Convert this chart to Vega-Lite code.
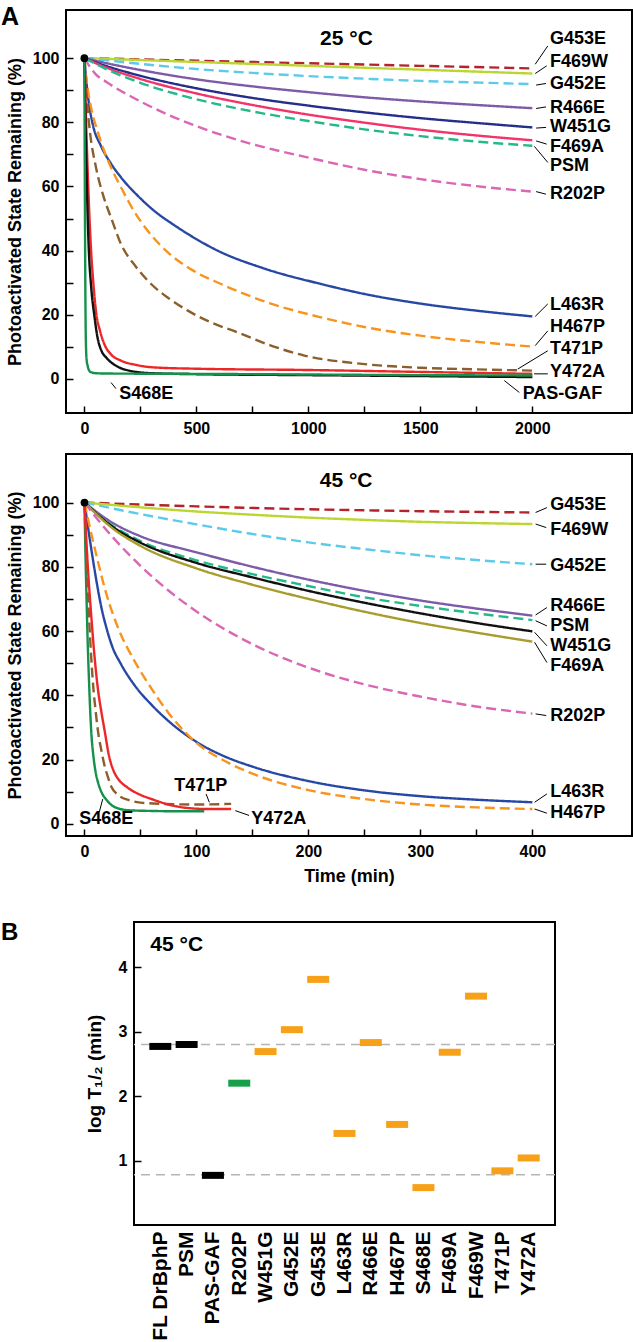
{
  "$schema": "https://vega.github.io/schema/vega-lite/v6.json",
  "padding": {"top": 4, "left": 0, "right": 0, "bottom": 0},
  "config": {
    "font": "Liberation Sans",
    "view": {"stroke": "black", "strokeWidth": 2},
    "axis": {"domain": false, "grid": false, "labelFont": "Liberation Sans", "labelFontWeight": "bold", "labelFontSize": 16, "labelColor": "black", "labelFlush": false, "labelOverlap": false, "titleFont": "Liberation Sans", "titleFontWeight": "bold", "titleFontSize": 18, "titleColor": "black", "tickColor": "black", "tickWidth": 1.5, "tickSize": -7, "labelPadding": 14},
    "title": {"font": "Liberation Sans", "fontWeight": "bold", "color": "black"},
    "text": {"font": "Liberation Sans", "fontWeight": "bold", "color": "black"}
  },
  "datasets": {
    "a25": [
      {"s":"G453E","t":0,"v":100},{"s":"G453E","t":250,"v":99.6},{"s":"G453E","t":500,"v":99.2},{"s":"G453E","t":1000,"v":98.4},{"s":"G453E","t":1500,"v":97.6},{"s":"G453E","t":2000,"v":96.8},
      {"s":"F469W","t":0,"v":100},{"s":"F469W","t":250,"v":99.4},{"s":"F469W","t":500,"v":98.8},{"s":"F469W","t":1000,"v":97.6},{"s":"F469W","t":1500,"v":96.4},{"s":"F469W","t":2000,"v":95.2},
      {"s":"G452E","t":0,"v":100},{"s":"G452E","t":100,"v":99.3},{"s":"G452E","t":250,"v":98.2},{"s":"G452E","t":500,"v":96.6},{"s":"G452E","t":750,"v":95.4},{"s":"G452E","t":1000,"v":94.4},{"s":"G452E","t":1250,"v":93.6},{"s":"G452E","t":1500,"v":92.9},{"s":"G452E","t":1750,"v":92.4},{"s":"G452E","t":2000,"v":91.9},
      {"s":"R466E","t":0,"v":100},{"s":"R466E","t":100,"v":98.4},{"s":"R466E","t":250,"v":96.3},{"s":"R466E","t":500,"v":93.4},{"s":"R466E","t":750,"v":91.2},{"s":"R466E","t":1000,"v":89.4},{"s":"R466E","t":1250,"v":87.8},{"s":"R466E","t":1500,"v":86.5},{"s":"R466E","t":1750,"v":85.4},{"s":"R466E","t":2000,"v":84.4},
      {"s":"W451G","t":0,"v":100},{"s":"W451G","t":100,"v":97.5},{"s":"W451G","t":250,"v":94.5},{"s":"W451G","t":500,"v":90.6},{"s":"W451G","t":750,"v":87.6},{"s":"W451G","t":1000,"v":85.2},{"s":"W451G","t":1250,"v":83.1},{"s":"W451G","t":1500,"v":81.3},{"s":"W451G","t":1750,"v":79.8},{"s":"W451G","t":2000,"v":78.4},
      {"s":"F469A","t":0,"v":100},{"s":"F469A","t":100,"v":97},{"s":"F469A","t":250,"v":93.5},{"s":"F469A","t":500,"v":89},{"s":"F469A","t":750,"v":85.4},{"s":"F469A","t":1000,"v":82.4},{"s":"F469A","t":1250,"v":79.9},{"s":"F469A","t":1500,"v":77.7},{"s":"F469A","t":1750,"v":75.9},{"s":"F469A","t":2000,"v":74.4},
      {"s":"PSM","t":0,"v":100},{"s":"PSM","t":100,"v":96.5},{"s":"PSM","t":250,"v":92.3},{"s":"PSM","t":500,"v":87.2},{"s":"PSM","t":750,"v":83.4},{"s":"PSM","t":1000,"v":80.4},{"s":"PSM","t":1250,"v":77.8},{"s":"PSM","t":1500,"v":75.7},{"s":"PSM","t":1750,"v":74},{"s":"PSM","t":2000,"v":72.7},
      {"s":"R202P","t":0,"v":100},{"s":"R202P","t":50,"v":95},{"s":"R202P","t":100,"v":92.5},{"s":"R202P","t":250,"v":86.5},{"s":"R202P","t":500,"v":78.8},{"s":"R202P","t":750,"v":73.2},{"s":"R202P","t":1000,"v":69},{"s":"R202P","t":1250,"v":65.2},{"s":"R202P","t":1500,"v":62.3},{"s":"R202P","t":1750,"v":60.1},{"s":"R202P","t":2000,"v":58.4},
      {"s":"L463R","t":0,"v":100},{"s":"L463R","t":10,"v":92},{"s":"L463R","t":20,"v":86},{"s":"L463R","t":37,"v":79.5},{"s":"L463R","t":75,"v":72.5},{"s":"L463R","t":120,"v":67},{"s":"L463R","t":164,"v":62.8},{"s":"L463R","t":240,"v":57},{"s":"L463R","t":312,"v":52.4},{"s":"L463R","t":400,"v":48},{"s":"L463R","t":462,"v":45.2},{"s":"L463R","t":595,"v":40},{"s":"L463R","t":800,"v":34.5},{"s":"L463R","t":1057,"v":29.6},{"s":"L463R","t":1250,"v":26.5},{"s":"L463R","t":1500,"v":23.5},{"s":"L463R","t":1750,"v":21.3},{"s":"L463R","t":2000,"v":19.5},
      {"s":"H467P","t":0,"v":100},{"s":"H467P","t":10,"v":93},{"s":"H467P","t":30,"v":84.6},{"s":"H467P","t":60,"v":77},{"s":"H467P","t":89,"v":71},{"s":"H467P","t":125,"v":65},{"s":"H467P","t":164,"v":59.7},{"s":"H467P","t":220,"v":52.5},{"s":"H467P","t":283,"v":46.2},{"s":"H467P","t":380,"v":39},{"s":"H467P","t":480,"v":34},{"s":"H467P","t":610,"v":29.6},{"s":"H467P","t":833,"v":23.5},{"s":"H467P","t":1057,"v":19.2},{"s":"H467P","t":1250,"v":16.2},{"s":"H467P","t":1500,"v":13.5},{"s":"H467P","t":1750,"v":11.6},{"s":"H467P","t":2000,"v":10.1},
      {"s":"T471P","t":0,"v":100},{"s":"T471P","t":10,"v":88},{"s":"T471P","t":25,"v":77},{"s":"T471P","t":52,"v":65.9},{"s":"T471P","t":85,"v":57},{"s":"T471P","t":119,"v":50.3},{"s":"T471P","t":164,"v":42},{"s":"T471P","t":230,"v":35},{"s":"T471P","t":298,"v":29.6},{"s":"T471P","t":380,"v":25},{"s":"T471P","t":462,"v":21.3},{"s":"T471P","t":570,"v":17.5},{"s":"T471P","t":685,"v":14.5},{"s":"T471P","t":830,"v":10.5},{"s":"T471P","t":982,"v":7.3},{"s":"T471P","t":1200,"v":5},{"s":"T471P","t":1500,"v":3.5},{"s":"T471P","t":1750,"v":3},{"s":"T471P","t":2000,"v":2.6},
      {"s":"Y472A","t":0,"v":100},{"s":"Y472A","t":10,"v":75},{"s":"Y472A","t":20,"v":55},{"s":"Y472A","t":30,"v":40},{"s":"Y472A","t":40,"v":30},{"s":"Y472A","t":52,"v":21},{"s":"Y472A","t":70,"v":15},{"s":"Y472A","t":89,"v":10.9},{"s":"Y472A","t":120,"v":7.6},{"s":"Y472A","t":164,"v":5.7},{"s":"Y472A","t":230,"v":4.4},{"s":"Y472A","t":313,"v":3.6},{"s":"Y472A","t":500,"v":3.2},{"s":"Y472A","t":1000,"v":2.8},{"s":"Y472A","t":1500,"v":2.2},{"s":"Y472A","t":2000,"v":1.6},
      {"s":"PAS-GAF","t":0,"v":100},{"s":"PAS-GAF","t":5,"v":80},{"s":"PAS-GAF","t":10,"v":64},{"s":"PAS-GAF","t":15,"v":50},{"s":"PAS-GAF","t":20,"v":40},{"s":"PAS-GAF","t":30,"v":29},{"s":"PAS-GAF","t":45,"v":19.5},{"s":"PAS-GAF","t":60,"v":12.5},{"s":"PAS-GAF","t":75,"v":9},{"s":"PAS-GAF","t":100,"v":6.5},{"s":"PAS-GAF","t":150,"v":3.8},{"s":"PAS-GAF","t":200,"v":2.6},{"s":"PAS-GAF","t":300,"v":1.8},{"s":"PAS-GAF","t":500,"v":1.5},{"s":"PAS-GAF","t":1000,"v":1.2},{"s":"PAS-GAF","t":1500,"v":0.9},{"s":"PAS-GAF","t":2000,"v":0.6},
      {"s":"S468E","t":0,"v":100},{"s":"S468E","t":1,"v":80},{"s":"S468E","t":2,"v":62},{"s":"S468E","t":3,"v":46},{"s":"S468E","t":4,"v":33},{"s":"S468E","t":5,"v":22},{"s":"S468E","t":6,"v":15},{"s":"S468E","t":8,"v":8.5},{"s":"S468E","t":10,"v":6},{"s":"S468E","t":15,"v":4},{"s":"S468E","t":20,"v":2.8},{"s":"S468E","t":30,"v":2.1},{"s":"S468E","t":50,"v":1.8},{"s":"S468E","t":100,"v":1.7},{"s":"S468E","t":500,"v":1.6},{"s":"S468E","t":1000,"v":1.4},{"s":"S468E","t":1500,"v":1.2},{"s":"S468E","t":2000,"v":1.1}
    ],
    "lab25": [
      {"s":"G453E","t":2079,"v":106},{"s":"F469W","t":2079,"v":98.8},{"s":"G452E","t":2079,"v":91.8},{"s":"R466E","t":2079,"v":84.6},{"s":"W451G","t":2079,"v":78.4},{"s":"F469A","t":2079,"v":72.4},{"s":"PSM","t":2079,"v":66.5},{"s":"R202P","t":2079,"v":57.6},{"s":"L463R","t":2079,"v":23},{"s":"H467P","t":2079,"v":16.1},{"s":"T471P","t":2079,"v":9.4},{"s":"Y472A","t":2079,"v":2.2},{"s":"PAS-GAF","t":1957,"v":-4.7},{"s":"S468E","t":156,"v":-4.7}
    ],
    "lead25": [
      {"t":2013,"v":98.1,"t2":2069,"v2":103.8},{"t":2013,"v":95.2,"t2":2064,"v2":97.6},{"t":2017,"v":91.6,"t2":2061,"v2":92.1},{"t":2017,"v":84.3,"t2":2061,"v2":84.8},{"t":2017,"v":78.2,"t2":2061,"v2":78.4},{"t":2017,"v":74.2,"t2":2064,"v2":73.2},{"t":2009,"v":72.5,"t2":2069,"v2":67.5},{"t":2017,"v":58.4,"t2":2061,"v2":57.6},{"t":2013,"v":19.5,"t2":2069,"v2":23.4},{"t":2013,"v":10.4,"t2":2069,"v2":15},{"t":1935,"v":3.1,"t2":2069,"v2":8.8},{"t":2008,"v":1.6,"t2":2069,"v2":1.6},{"t":1875,"v":-0.5,"t2":1942,"v2":-4.2},{"t":119,"v":-1.1,"t2":141,"v2":-3}
    ],
    "a45": [
      {"s":"G453E","t":0,"v":100},{"s":"G453E","t":100,"v":98.8},{"s":"G453E","t":200,"v":97.9},{"s":"G453E","t":300,"v":97.3},{"s":"G453E","t":400,"v":96.9},
      {"s":"F469W","t":0,"v":100},{"s":"F469W","t":50,"v":98.5},{"s":"F469W","t":100,"v":97.2},{"s":"F469W","t":150,"v":96.2},{"s":"F469W","t":200,"v":95.3},{"s":"F469W","t":250,"v":94.6},{"s":"F469W","t":300,"v":94},{"s":"F469W","t":350,"v":93.6},{"s":"F469W","t":400,"v":93.3},
      {"s":"G452E","t":0,"v":100},{"s":"G452E","t":50,"v":96.4},{"s":"G452E","t":100,"v":93.2},{"s":"G452E","t":150,"v":90.2},{"s":"G452E","t":200,"v":87.6},{"s":"G452E","t":250,"v":85.5},{"s":"G452E","t":300,"v":83.6},{"s":"G452E","t":350,"v":82.1},{"s":"G452E","t":400,"v":80.8},
      {"s":"R466E","t":0,"v":100},{"s":"R466E","t":25,"v":93.7},{"s":"R466E","t":50,"v":89.5},{"s":"R466E","t":100,"v":84.5},{"s":"R466E","t":150,"v":80},{"s":"R466E","t":200,"v":76},{"s":"R466E","t":250,"v":72.5},{"s":"R466E","t":300,"v":69.5},{"s":"R466E","t":350,"v":67},{"s":"R466E","t":400,"v":64.8},
      {"s":"PSM","t":0,"v":100},{"s":"PSM","t":25,"v":92.8},{"s":"PSM","t":50,"v":88},{"s":"PSM","t":100,"v":82},{"s":"PSM","t":150,"v":77.7},{"s":"PSM","t":200,"v":74},{"s":"PSM","t":250,"v":70.5},{"s":"PSM","t":300,"v":67.8},{"s":"PSM","t":350,"v":65.5},{"s":"PSM","t":400,"v":63.4},
      {"s":"W451G","t":0,"v":100},{"s":"W451G","t":25,"v":92.5},{"s":"W451G","t":50,"v":87.5},{"s":"W451G","t":100,"v":81.2},{"s":"W451G","t":150,"v":76.7},{"s":"W451G","t":200,"v":72.5},{"s":"W451G","t":250,"v":68.8},{"s":"W451G","t":300,"v":65.5},{"s":"W451G","t":350,"v":62.5},{"s":"W451G","t":400,"v":59.9},
      {"s":"F469A","t":0,"v":100},{"s":"F469A","t":25,"v":92},{"s":"F469A","t":50,"v":86.5},{"s":"F469A","t":100,"v":79.5},{"s":"F469A","t":150,"v":74.4},{"s":"F469A","t":200,"v":70},{"s":"F469A","t":250,"v":66},{"s":"F469A","t":300,"v":62.5},{"s":"F469A","t":350,"v":59.5},{"s":"F469A","t":400,"v":56.7},
      {"s":"R202P","t":0,"v":100},{"s":"R202P","t":10,"v":95.5},{"s":"R202P","t":25,"v":89.3},{"s":"R202P","t":50,"v":80.3},{"s":"R202P","t":75,"v":72.6},{"s":"R202P","t":100,"v":66.1},{"s":"R202P","t":150,"v":55.9},{"s":"R202P","t":200,"v":48.6},{"s":"R202P","t":250,"v":43.4},{"s":"R202P","t":300,"v":39.6},{"s":"R202P","t":350,"v":36.5},{"s":"R202P","t":400,"v":34.3},
      {"s":"L463R","t":0,"v":100},{"s":"L463R","t":5,"v":88},{"s":"L463R","t":10,"v":77},{"s":"L463R","t":15,"v":67.5},{"s":"L463R","t":20,"v":60.5},{"s":"L463R","t":25,"v":55},{"s":"L463R","t":32.6,"v":49.7},{"s":"L463R","t":45,"v":43},{"s":"L463R","t":60,"v":37},{"s":"L463R","t":75,"v":32},{"s":"L463R","t":100,"v":25.5},{"s":"L463R","t":125,"v":21},{"s":"L463R","t":150,"v":17.8},{"s":"L463R","t":200,"v":13.3},{"s":"L463R","t":250,"v":10.4},{"s":"L463R","t":300,"v":8.6},{"s":"L463R","t":350,"v":7.5},{"s":"L463R","t":400,"v":6.7},
      {"s":"H467P","t":0,"v":100},{"s":"H467P","t":5,"v":92},{"s":"H467P","t":10,"v":84.5},{"s":"H467P","t":20,"v":71},{"s":"H467P","t":30,"v":61},{"s":"H467P","t":45,"v":50.5},{"s":"H467P","t":60,"v":42},{"s":"H467P","t":75,"v":34.5},{"s":"H467P","t":90,"v":28.5},{"s":"H467P","t":100,"v":25.2},{"s":"H467P","t":125,"v":19.6},{"s":"H467P","t":150,"v":15.6},{"s":"H467P","t":200,"v":10.5},{"s":"H467P","t":250,"v":7.7},{"s":"H467P","t":300,"v":6},{"s":"H467P","t":350,"v":5.1},{"s":"H467P","t":400,"v":4.6},
      {"s":"S468E","t":0,"v":100},{"s":"S468E","t":1,"v":82},{"s":"S468E","t":2,"v":68},{"s":"S468E","t":3,"v":55},{"s":"S468E","t":4,"v":45},{"s":"S468E","t":5,"v":36},{"s":"S468E","t":6,"v":29},{"s":"S468E","t":8,"v":21},{"s":"S468E","t":10,"v":16},{"s":"S468E","t":12,"v":13},{"s":"S468E","t":15,"v":10},{"s":"S468E","t":20,"v":7.3},{"s":"S468E","t":25,"v":5.6},{"s":"S468E","t":30,"v":4.8},{"s":"S468E","t":40,"v":4.2},{"s":"S468E","t":60,"v":4},{"s":"S468E","t":80,"v":3.9},{"s":"S468E","t":107,"v":3.9},
      {"s":"T471P","t":0,"v":100},{"s":"T471P","t":2,"v":80},{"s":"T471P","t":4,"v":65},{"s":"T471P","t":6,"v":52},{"s":"T471P","t":8,"v":42},{"s":"T471P","t":10,"v":35},{"s":"T471P","t":12,"v":29},{"s":"T471P","t":15,"v":23},{"s":"T471P","t":18,"v":18},{"s":"T471P","t":21,"v":14.5},{"s":"T471P","t":24,"v":11.5},{"s":"T471P","t":30,"v":9},{"s":"T471P","t":40,"v":7.3},{"s":"T471P","t":50,"v":6.6},{"s":"T471P","t":70,"v":6.2},{"s":"T471P","t":100,"v":6},{"s":"T471P","t":131,"v":6.2},
      {"s":"Y472A","t":0,"v":100},{"s":"Y472A","t":3,"v":80},{"s":"Y472A","t":6,"v":65},{"s":"Y472A","t":9,"v":52},{"s":"Y472A","t":12,"v":42},{"s":"Y472A","t":15,"v":35},{"s":"Y472A","t":18,"v":29},{"s":"Y472A","t":22,"v":21},{"s":"Y472A","t":26,"v":16.5},{"s":"Y472A","t":30,"v":14},{"s":"Y472A","t":38,"v":11.4},{"s":"Y472A","t":50,"v":9},{"s":"Y472A","t":60,"v":7.7},{"s":"Y472A","t":75,"v":6},{"s":"Y472A","t":90,"v":5},{"s":"Y472A","t":110,"v":4.6},{"s":"Y472A","t":131,"v":4.6}
    ],
    "lab45": [
      {"s":"G453E","t":416,"v":99.3},{"s":"F469W","t":416,"v":91.5},{"s":"G452E","t":416,"v":80.3},{"s":"R466E","t":416,"v":67.9},{"s":"PSM","t":416,"v":61.6},{"s":"W451G","t":416,"v":55.4},{"s":"F469A","t":416,"v":49.2},{"s":"R202P","t":416,"v":33.7},{"s":"L463R","t":416,"v":9.8},{"s":"H467P","t":416,"v":3.3},{"s":"S468E","t":-4.6,"v":1.5},{"s":"T471P","t":80.2,"v":11.9},{"s":"Y472A","t":149,"v":1.6}
    ],
    "lead45": [
      {"t":402.9,"v":96.9,"t2":413,"v2":98.4},{"t":402.9,"v":93.3,"t2":412.4,"v2":92.2},{"t":402.9,"v":80.8,"t2":412.4,"v2":80.8},{"t":402.9,"v":65,"t2":413,"v2":67.3},{"t":402.9,"v":63.2,"t2":413,"v2":61.6},{"t":402,"v":59.6,"t2":413,"v2":55.4},{"t":402,"v":56.5,"t2":413,"v2":50.2},{"t":402.9,"v":34.2,"t2":412.4,"v2":33.7},{"t":402,"v":6.7,"t2":413,"v2":9.3},{"t":402,"v":4.6,"t2":413,"v2":3.3},{"t":16.3,"v":7.7,"t2":13.2,"v2":3.6},{"t":108.6,"v":9.3,"t2":111.5,"v2":6.7},{"t":134.7,"v":4.1,"t2":147,"v2":2.6}
    ],
    "b": [
      {"sample":"FL DrBphP","logt":2.77,"grp":"reference"},{"sample":"PSM","logt":2.8,"grp":"reference"},{"sample":"PAS-GAF","logt":0.77,"grp":"reference"},{"sample":"R202P","logt":2.2,"grp":"GAF"},{"sample":"W451G","logt":2.69,"grp":"PHY"},{"sample":"G452E","logt":3.03,"grp":"PHY"},{"sample":"G453E","logt":3.81,"grp":"PHY"},{"sample":"L463R","logt":1.42,"grp":"PHY"},{"sample":"R466E","logt":2.83,"grp":"PHY"},{"sample":"H467P","logt":1.56,"grp":"PHY"},{"sample":"S468E","logt":0.58,"grp":"PHY"},{"sample":"F469A","logt":2.68,"grp":"PHY"},{"sample":"F469W","logt":3.55,"grp":"PHY"},{"sample":"T471P","logt":0.84,"grp":"PHY"},{"sample":"Y472A","logt":1.04,"grp":"PHY"}
    ],
    "bref": [{"logt":2.8},{"logt":0.78}]
  },
  "spacing": 35,
  "resolve": {"scale": {"color": "independent", "strokeDash": "independent"}},
  "vconcat": [
    {
      "spacing": 16,
      "resolve": {"scale": {"color": "independent", "strokeDash": "independent"}},
      "vconcat": [
        {
          "width": 566, "height": 403,
          "title": {"text": "A", "anchor": "start", "frame": "group", "dx": -65, "offset": -20, "fontSize": 25},
          "encoding": {
            "x": {"field": "t", "type": "quantitative", "title": null, "scale": {"domain": [-82, 2445], "nice": false, "zero": false}, "axis": {"values": [0,250,500,750,1000,1250,1500,1750,2000], "format": "d", "labelExpr": "datum.value % 500 == 0 ? datum.label : ''"}},
            "y": {"field": "v", "type": "quantitative", "title": "Photoactivated State Remaining (%)", "scale": {"domain": [-10.6, 115], "nice": false, "zero": false}, "axis": {"values": [0,10,20,30,40,50,60,70,80,90,100], "labelExpr": "datum.value % 20 == 0 ? datum.label : ''", "titlePadding": 8}}
          },
          "layer": [
            {"data": {"name": "a25"}, "mark": {"type": "line", "strokeWidth": 2.4, "interpolate": "monotone"},
             "encoding": {
               "color": {"field": "s", "type": "nominal", "legend": null, "scale": {"domain": ["G453E","F469W","G452E","R466E","W451G","F469A","PSM","R202P","L463R","H467P","T471P","Y472A","PAS-GAF","S468E"], "range": ["#b3232b","#bdd531","#5ccbeb","#7e5ba9","#252e8a","#f2346b","#24b98a","#da66b4","#2747a5","#f7931e","#8b5f2c","#ed2628","#111111","#14914a"]}},
               "strokeDash": {"field": "s", "type": "nominal", "legend": null, "scale": {"domain": ["G453E","F469W","G452E","R466E","W451G","F469A","PSM","R202P","L463R","H467P","T471P","Y472A","PAS-GAF","S468E"], "range": [[10,5],[1,0],[10,5],[1,0],[1,0],[1,0],[10,5],[10,5],[1,0],[10,5],[10,5],[1,0],[1,0],[1,0]]}}
             }},
            {"data": {"name": "lead25"}, "mark": {"type": "rule", "color": "black", "strokeWidth": 1},
             "encoding": {"x2": {"field": "t2"}, "y2": {"field": "v2"}}},
            {"data": {"name": "lab25"}, "mark": {"type": "text", "align": "left", "baseline": "middle", "fontSize": 18},
             "encoding": {"text": {"field": "s"}}},
            {"data": {"values": [{"t": 0, "v": 100}]}, "mark": {"type": "point", "filled": true, "color": "black", "size": 60, "opacity": 1}},
            {"data": {"values": [{"t": 1170, "v": 106, "txt": "25 °C"}]}, "mark": {"type": "text", "fontSize": 21, "baseline": "middle"},
             "encoding": {"text": {"field": "txt"}}}
          ]
        },
        {
          "width": 566, "height": 382,
          "encoding": {
            "x": {"field": "t", "type": "quantitative", "title": "Time (min)", "scale": {"domain": [-16.5, 489], "nice": false, "zero": false}, "axis": {"values": [0,50,100,150,200,250,300,350,400], "format": "d", "labelExpr": "datum.value % 100 == 0 ? datum.label : ''", "titlePadding": 8}},
            "y": {"field": "v", "type": "quantitative", "title": "Photoactivated State Remaining (%)", "scale": {"domain": [-3.8, 115.1], "nice": false, "zero": false}, "axis": {"values": [0,10,20,30,40,50,60,70,80,90,100], "labelExpr": "datum.value % 20 == 0 ? datum.label : ''", "titlePadding": 8}}
          },
          "layer": [
            {"data": {"name": "a45"}, "mark": {"type": "line", "strokeWidth": 2.4, "interpolate": "monotone"},
             "encoding": {
               "color": {"field": "s", "type": "nominal", "legend": null, "scale": {"domain": ["G453E","F469W","G452E","R466E","PSM","W451G","F469A","R202P","L463R","H467P","S468E","T471P","Y472A"], "range": ["#b3232b","#bdd531","#5ccbeb","#7e5ba9","#24b98a","#111111","#a89c2d","#da66b4","#2747a5","#f7931e","#14914a","#8b5f2c","#ed2628"]}},
               "strokeDash": {"field": "s", "type": "nominal", "legend": null, "scale": {"domain": ["G453E","F469W","G452E","R466E","PSM","W451G","F469A","R202P","L463R","H467P","S468E","T471P","Y472A"], "range": [[10,5],[1,0],[10,5],[1,0],[10,5],[1,0],[1,0],[10,5],[1,0],[10,5],[1,0],[10,5],[1,0]]}}
             }},
            {"data": {"name": "lead45"}, "mark": {"type": "rule", "color": "black", "strokeWidth": 1},
             "encoding": {"x2": {"field": "t2"}, "y2": {"field": "v2"}}},
            {"data": {"name": "lab45"}, "mark": {"type": "text", "align": "left", "baseline": "middle", "fontSize": 18},
             "encoding": {"text": {"field": "s"}}},
            {"data": {"values": [{"t": 0, "v": 100}]}, "mark": {"type": "point", "filled": true, "color": "black", "size": 60, "opacity": 1}},
            {"data": {"values": [{"t": 233.7, "v": 106.7, "txt": "45 °C"}]}, "mark": {"type": "text", "fontSize": 21, "baseline": "middle"},
             "encoding": {"text": {"field": "txt"}}}
          ]
        }
      ]
    },
    {
      "spacing": 14,
      "resolve": {"scale": {"color": "independent"}},
      "hconcat": [
        {
          "width": 1, "height": 303,
          "view": {"stroke": null},
          "title": {"text": "B", "anchor": "start", "frame": "group", "dx": -65, "offset": -23, "fontSize": 24},
          "data": {"values": [{}]},
          "mark": {"type": "point", "opacity": 0}
        },
        {
          "width": 421, "height": 303,
          "layer": [
            {"data": {"name": "bref"}, "mark": {"type": "rule", "color": "#b5b5b5", "strokeWidth": 1.5, "strokeDash": [9, 6]},
             "encoding": {"y": {"field": "logt", "type": "quantitative", "title": "log T₁/₂ (min)"}}},
            {"data": {"name": "b"}, "mark": {"type": "tick", "thickness": 7, "size": 22, "opacity": 1},
             "encoding": {
               "x": {"field": "sample", "type": "nominal", "sort": null, "title": null, "scale": {"type": "point", "padding": 1.07, "domain": ["FL DrBphP","PSM","PAS-GAF","R202P","W451G","G452E","G453E","L463R","R466E","H467P","S468E","F469A","F469W","T471P","Y472A"]}, "axis": {"ticks": false, "labelAngle": -90, "labelPadding": 6, "labelFontSize": 21}},
               "y": {"field": "logt", "type": "quantitative", "title": "log T₁/₂ (min)", "scale": {"domain": [0, 4.7], "nice": false, "zero": false}, "axis": {"values": [1, 2, 3, 4], "format": "d", "titleFontSize": 19, "titlePadding": 14}},
               "color": {"field": "grp", "type": "nominal", "legend": null, "scale": {"domain": ["reference", "GAF", "PHY"], "range": ["#000000", "#16a04a", "#f7a11a"]}}
             }},
            {"data": {"values": [{"sample": "FL DrBphP", "logt": 4.35, "txt": "45 °C"}]}, "mark": {"type": "text", "align": "left", "baseline": "middle", "fontSize": 21, "dx": -10},
             "encoding": {"x": {"field": "sample", "type": "nominal", "sort": null, "title": null}, "y": {"field": "logt", "type": "quantitative", "title": "log T₁/₂ (min)"}, "text": {"field": "txt"}}}
          ]
        }
      ]
    }
  ]
}
